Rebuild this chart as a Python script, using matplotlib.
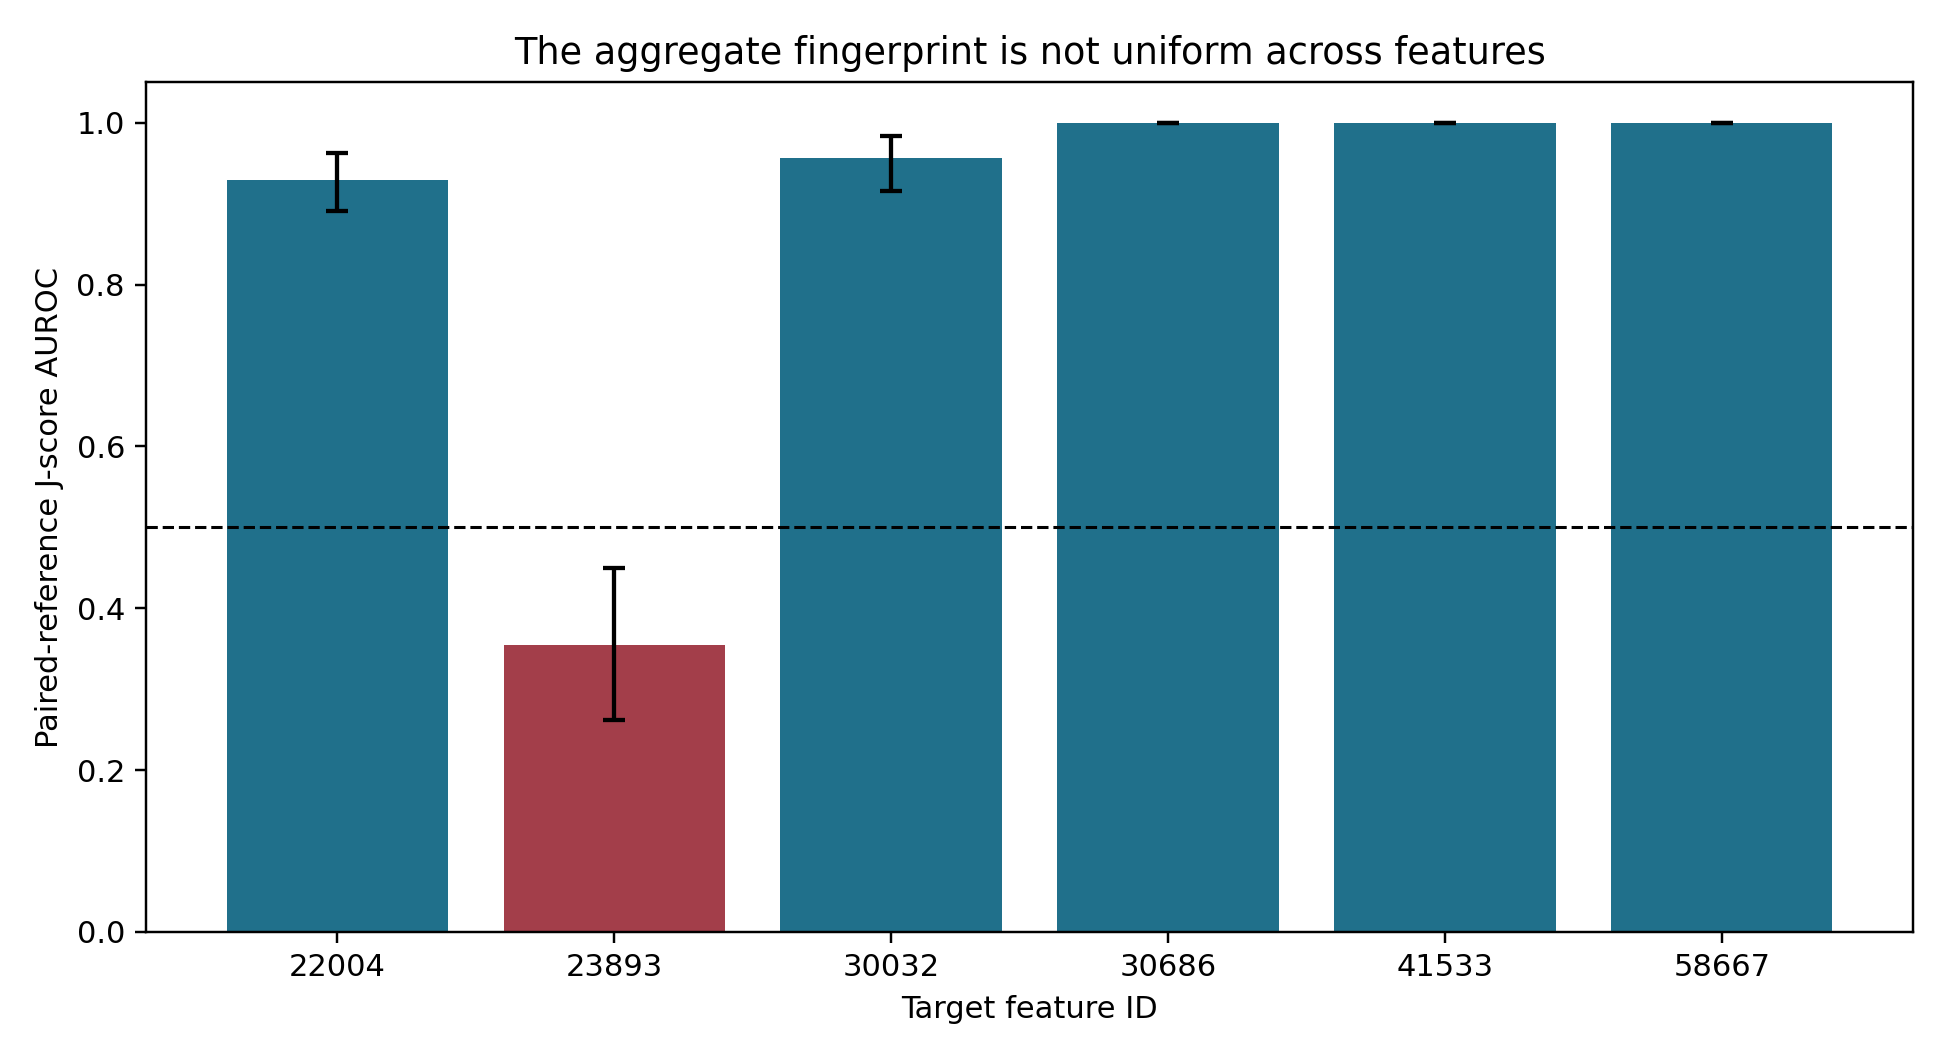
import numpy as np
import matplotlib
matplotlib.use("Agg")
import matplotlib.pyplot as plt

# feature ids and paired-reference AUROC with CI bounds
features = ["22004", "23893", "30032", "30686", "41533", "58667"]
auroc = [0.929, 0.355, 0.957, 1.0, 1.0, 1.0]
ci_low = [0.891, 0.262, 0.916, 1.0, 1.0, 1.0]
ci_high = [0.963, 0.450, 0.984, 1.0, 1.0, 1.0]

teal = "#20708b"
red = "#a33e4a"

auroc = np.array(auroc)
yerr = np.array([auroc - np.array(ci_low), np.array(ci_high) - auroc])
colors = [red if v < 0.5 else teal for v in auroc]

fig, ax = plt.subplots(figsize=(8.8, 4.8), dpi=220)
x = np.arange(len(features))
ax.bar(x, auroc, color=colors, width=0.8)
ax.errorbar(x, auroc, yerr=yerr, fmt="none", ecolor="black", capsize=3.5, elinewidth=1.4, capthick=1.4)
ax.axhline(0.5, color="black", linestyle="--", linewidth=1)

ax.set_xticks(x)
ax.set_xticklabels(features)
ax.set_ylim(0, 1.05)
ax.set_xlabel("Target feature ID")
ax.set_ylabel("Paired-reference J-score AUROC")
ax.set_title("The aggregate fingerprint is not uniform across features")

plt.subplots_adjust(left=0.0756, right=0.988, top=0.922, bottom=0.1175)
fig.savefig("out.png", dpi=220)
